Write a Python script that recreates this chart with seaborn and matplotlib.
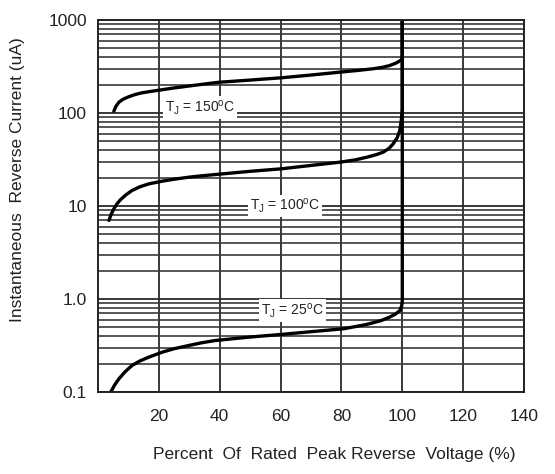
import matplotlib
matplotlib.use("Agg")
import matplotlib.pyplot as plt
import seaborn as sns
import pandas as pd
import numpy as np
from matplotlib.ticker import FixedLocator, LogLocator, NullFormatter

# ---- data ----
x_150 = [5.2, 5.9, 6.9, 8.3, 10.2, 12.2, 14.5, 17.5, 20.6, 24.5, 28.8, 34.0, 39.7, 50.0, 60.2, 70.0,
         79.5, 85.0, 90.4, 93.5, 95.9, 98.0, 99.5, 100.0, 100.0]
y_150 = [104.6, 118, 131, 141, 150, 158, 165, 171, 177, 185, 193, 203, 214, 226, 239, 256,
         275, 286, 299, 310, 324, 345, 368, 390, 1000]

x_100 = [3.6, 4.3, 5.2, 6.2, 7.4, 9.2, 11.2, 13.8, 16.7, 21.1, 25.0, 29.8, 34.0, 38.6, 50.0, 60.2, 70.0,
         79.5, 84.5, 88.4, 91.5, 93.7, 95.6, 97.0, 98.3, 99.2, 99.7, 100.0, 100.0]
y_100 = [7.0, 8.1, 9.3, 10.5, 11.7, 13.2, 14.7, 16.1, 17.3, 18.5, 19.4, 20.4, 21.1, 21.8, 23.6, 25.1, 27.3,
         29.6, 31.3, 33.5, 35.7, 37.9, 41.5, 46.6, 54.0, 65.0, 85.0, 110.0, 1000]

x_25 = [4.2, 5.4, 6.9, 8.9, 11.2, 13.8, 16.7, 21.1, 25.0, 29.8, 34.0, 38.6, 50.0, 60.2, 70.0,
        80.8, 88.0, 93.0, 95.9, 97.8, 99.2, 99.8, 100.0, 100.0]
y_25 = [0.100, 0.118, 0.139, 0.165, 0.193, 0.216, 0.237, 0.268, 0.292, 0.316, 0.338, 0.358, 0.39, 0.416, 0.445,
        0.479, 0.53, 0.585, 0.64, 0.69, 0.75, 0.84, 0.96, 1000]

curve_labels = [r"T$_{J}$ = 150$^{o}$C", r"T$_{J}$ = 100$^{o}$C", r"T$_{J}$ = 25$^{o}$C"]
label_x = [33.5, 61.5, 64.0]
label_y = [114, 10.0, 0.75]

x_ticks = [20, 40, 60, 80, 100, 120, 140]
x_tick_labels = ["20", "40", "60", "80", "100", "120", "140"]
y_ticks = [0.1, 1, 10, 100, 1000]
y_tick_labels = ["0.1", "1.0", "10", "100", "1000"]

sns.set_style("white")
plt.rcParams['font.family'] = ['Liberation Sans', 'DejaVu Sans']
plt.rcParams['mathtext.default'] = 'regular'

df = pd.concat([
    pd.DataFrame({"x": x_150, "y": y_150, "curve": "150"}),
    pd.DataFrame({"x": x_100, "y": y_100, "curve": "100"}),
    pd.DataFrame({"x": x_25, "y": y_25, "curve": "25"}),
], ignore_index=True)

fig = plt.figure(figsize=(5.55, 4.74), dpi=100)
ax = fig.add_axes([98/555, 1-392/474, (524-98)/555, (392-20)/474])

ax.set_yscale("log")
ax.set_xlim(0, 140)
ax.set_ylim(0.1, 1000)

# grid
ax.xaxis.set_major_locator(FixedLocator(x_ticks))
ax.yaxis.set_major_locator(FixedLocator(y_ticks))
ax.yaxis.set_minor_locator(LogLocator(base=10, subs=np.arange(2, 10)))
ax.yaxis.set_minor_formatter(NullFormatter())
ax.set_axisbelow(True)
ax.grid(True, which="major", axis="both", color="#2a2a2a", linewidth=1.3)
ax.grid(True, which="minor", axis="y", color="#3a3a3a", linewidth=1.2)

for c in ["150", "100", "25"]:
    sns.lineplot(data=df[df["curve"] == c], x="x", y="y", ax=ax, color="black",
                 linewidth=2.4, estimator=None, sort=False, legend=False,
                 solid_joinstyle="round", solid_capstyle="round")

for t, lx, ly in zip(curve_labels, label_x, label_y):
    ax.text(lx, ly, t, ha="center", va="center", fontsize=10, color="#222222",
            bbox=dict(boxstyle="square,pad=0.15", facecolor="white", edgecolor="none"), zorder=5)

ax.set_xticks(x_ticks)
ax.set_xticklabels(x_tick_labels)
ax.set_yticks(y_ticks)
ax.set_yticklabels(y_tick_labels)
ax.tick_params(axis="both", which="both", length=0, labelsize=12.5, colors="#222222")
ax.tick_params(axis="x", pad=12)
ax.tick_params(axis="y", pad=8)

for s in ax.spines.values():
    s.set_color("#222222")
    s.set_linewidth(1.4)

ax.set_xlabel("")
ax.set_ylabel("")
fig.text(334/555, 1-455/474, "Percent  Of  Rated  Peak Reverse  Voltage (%)",
         ha="center", va="center", fontsize=12.5, color="#222222")
fig.text(18/555, 1-180/474, "Instantaneous  Reverse Current (uA)",
         ha="center", va="center", rotation=90, fontsize=12.5, color="#222222")

fig.savefig("out.png", dpi=100)
